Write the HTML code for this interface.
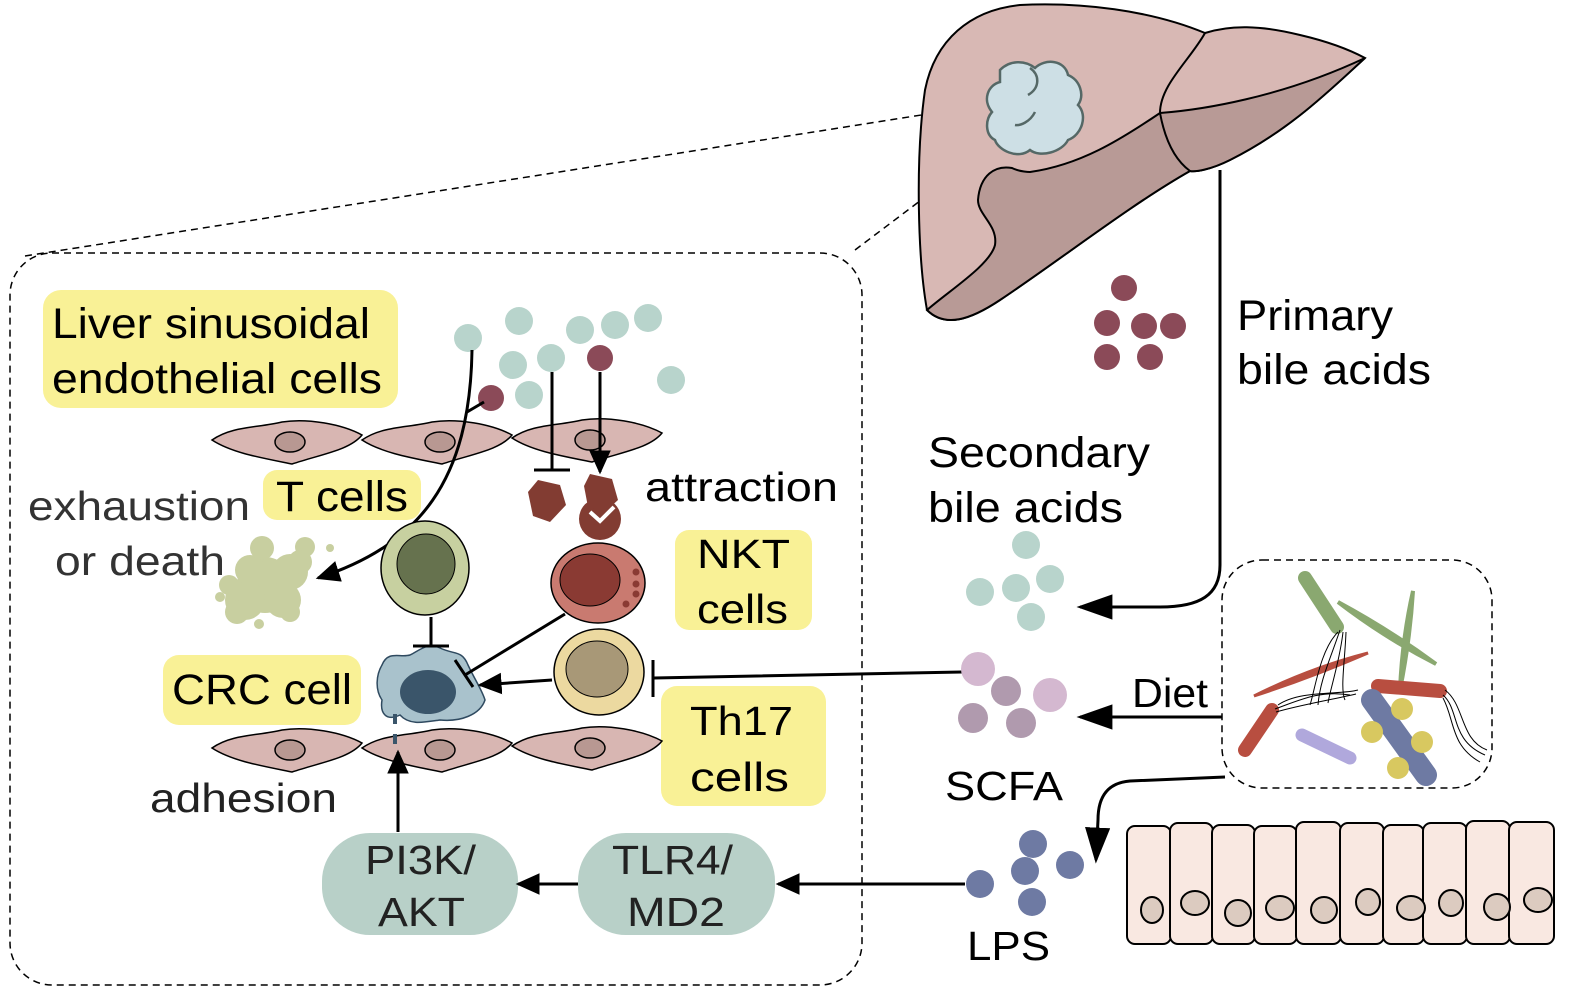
<!DOCTYPE html>
<html><head><meta charset="utf-8"><style>html,body{margin:0;padding:0;background:#fff}svg{display:block}text{font-family:"Liberation Sans",sans-serif}</style></head><body>
<svg width="1583" height="997" viewBox="0 0 1583 997" xmlns="http://www.w3.org/2000/svg">
<defs>
<marker id="ahs" viewBox="0 0 10 10" refX="9" refY="5" markerWidth="24" markerHeight="24" markerUnits="userSpaceOnUse" orient="auto"><path d="M0,0.5L10,5L0,9.5Z" fill="#000"/></marker>
<marker id="ahl" viewBox="0 0 10 10" refX="9" refY="5" markerWidth="36" markerHeight="36" markerUnits="userSpaceOnUse" orient="auto"><path d="M0,1.5L10,5L0,8.5Z" fill="#000"/></marker>
<g id="endo"><path d="M0,0 C20,-14 45,-12 70,-18 C95,-22 130,-16 150,-5 C138,10 110,14 80,24 C50,18 20,13 0,0Z" fill="#d8b6b2" stroke="#000" stroke-width="1.5"/><ellipse cx="78" cy="2" rx="15" ry="10" fill="#b89892" stroke="#000" stroke-width="1.5"/></g>
</defs>

<path d="M25,256 L985,105 M855,250 L990,148" stroke="#000" stroke-width="1.5" stroke-dasharray="7,5" fill="none"/>
<path d="M927,310 C918,260 915,160 925,90 C935,40 970,10 1020,5 C1080,2 1150,10 1205,33 C1230,25 1260,25 1300,35 C1330,42 1350,50 1365,58 C1330,90 1290,130 1230,160 C1210,170 1195,172 1190,171 C1130,205 1060,260 1000,300 C970,320 945,328 927,310Z" fill="#d8b8b4" stroke="#000" stroke-width="2"/>
<path d="M1160,113 C1200,110 1280,98 1365,58 C1330,90 1290,130 1230,160 C1210,170 1195,172 1190,171 C1130,205 1060,260 1000,300 C970,320 945,328 927,310 C950,290 990,265 995,245 C998,225 978,215 978,200 C980,175 995,165 1012,168 C1020,172 1030,172 1030,172 C1080,165 1120,140 1160,113Z" fill="#b89a96" stroke="#000" stroke-width="2"/>
<path d="M1205,33 C1190,60 1160,85 1160,113 C1165,140 1175,160 1190,171" fill="none" stroke="#000" stroke-width="2"/>
<path d="M1000,70 C1010,60 1025,60 1035,68 C1045,58 1065,60 1068,75 C1080,80 1085,95 1078,105 C1088,115 1082,135 1068,140 C1062,152 1040,158 1030,150 C1018,160 998,150 995,140 C985,135 985,120 992,112 C982,100 988,85 1000,82Z" fill="#cddfe5" stroke="#556866" stroke-width="2.5"/>
<path d="M1030,68 C1040,75 1040,88 1028,95 M1035,112 C1030,122 1020,126 1015,125" fill="none" stroke="#556866" stroke-width="2.5"/>

<rect x="10" y="253" width="852" height="732" rx="42" fill="none" stroke="#000" stroke-width="1.5" stroke-dasharray="7,5"/>

<rect x="43" y="290" width="355" height="118" rx="18" fill="#f9f196"/>
<text x="52" y="338" font-size="43" textLength="318" lengthAdjust="spacingAndGlyphs">Liver sinusoidal</text>
<text x="52" y="393" font-size="43" textLength="330" lengthAdjust="spacingAndGlyphs">endothelial cells</text>
<rect x="263" y="470" width="158" height="50" rx="14" fill="#f9f196"/>
<text x="276" y="511" font-size="43" textLength="132" lengthAdjust="spacingAndGlyphs">T cells</text>
<text x="28" y="520" font-size="41" fill="#333" textLength="222" lengthAdjust="spacingAndGlyphs">exhaustion</text>
<text x="55" y="575" font-size="41" fill="#333" textLength="170" lengthAdjust="spacingAndGlyphs">or death</text>
<text x="645" y="501" font-size="41" textLength="193" lengthAdjust="spacingAndGlyphs">attraction</text>
<rect x="675" y="530" width="137" height="100" rx="14" fill="#f9f196"/>
<text x="697" y="568" font-size="41" textLength="93" lengthAdjust="spacingAndGlyphs">NKT</text>
<text x="697" y="623" font-size="41" textLength="91" lengthAdjust="spacingAndGlyphs">cells</text>
<rect x="163" y="655" width="198" height="70" rx="16" fill="#f9f196"/>
<text x="172" y="704" font-size="43" textLength="180" lengthAdjust="spacingAndGlyphs">CRC cell</text>
<rect x="661" y="686" width="165" height="120" rx="16" fill="#f9f196"/>
<text x="690" y="735" font-size="41" textLength="103" lengthAdjust="spacingAndGlyphs">Th17</text>
<text x="690" y="791" font-size="41" textLength="99" lengthAdjust="spacingAndGlyphs">cells</text>
<text x="150" y="812" font-size="41" fill="#222" textLength="187" lengthAdjust="spacingAndGlyphs">adhesion</text>

<use href="#endo" x="212" y="440"/><use href="#endo" x="362" y="440"/><use href="#endo" x="512" y="438"/>
<use href="#endo" x="212" y="748"/><use href="#endo" x="362" y="748"/><use href="#endo" x="512" y="746"/>

<g fill="#b8d4cc">
<circle cx="468" cy="338" r="14"/><circle cx="519" cy="321" r="14"/><circle cx="580" cy="330" r="14"/><circle cx="615" cy="325" r="14"/><circle cx="648" cy="318" r="14"/><circle cx="513" cy="365" r="14"/><circle cx="551" cy="358" r="14"/><circle cx="529" cy="395" r="14"/><circle cx="671" cy="380" r="14"/>
</g>
<circle cx="600" cy="358" r="13" fill="#8b4a58"/><circle cx="491" cy="398" r="13" fill="#8b4a58"/>

<g fill="#c8cfa0">
<circle cx="265" cy="585" r="28"/><circle cx="245" cy="600" r="20"/><circle cx="290" cy="572" r="18"/><circle cx="250" cy="570" r="15"/><circle cx="283" cy="600" r="18"/><circle cx="262" cy="548" r="12"/><circle cx="305" cy="547" r="10"/><circle cx="290" cy="612" r="10"/><circle cx="237" cy="612" r="12"/><circle cx="229" cy="585" r="10"/><circle cx="220" cy="597" r="5"/><circle cx="259" cy="624" r="5"/><circle cx="330" cy="548" r="4"/><circle cx="300" cy="562" r="12"/>
</g>

<path d="M472,350 C470,480 420,545 318,578" fill="none" stroke="#000" stroke-width="3" marker-end="url(#ahs)"/>
<path d="M484,402 L467,412" stroke="#000" stroke-width="3"/>
<path d="M552,372 L552,470 M534,470 L570,470" stroke="#000" stroke-width="3" fill="none"/>
<path d="M600,372 L600,472" stroke="#000" stroke-width="3" marker-end="url(#ahs)"/>
<polygon points="538,480 560,485 566,505 550,522 533,516 528,492" fill="#823c32"/>
<circle cx="600" cy="519" r="21" fill="#823c32"/>
<polygon points="590,474 612,479 618,500 605,512 588,507 584,486" fill="#823c32"/>
<path d="M590,512 L600,521 L614,507" stroke="#fff" stroke-width="4" fill="none"/>

<ellipse cx="425" cy="568" rx="44" ry="47" fill="#c7d0a0" stroke="#000" stroke-width="1.5"/>
<ellipse cx="426" cy="564" rx="29" ry="30" fill="#66724e" stroke="#000" stroke-width="1"/>
<ellipse cx="598" cy="583" rx="47" ry="40" fill="#c97a70" stroke="#000" stroke-width="1.5"/>
<ellipse cx="590" cy="580" rx="30" ry="26" fill="#8a3a33" stroke="#000" stroke-width="1"/>
<g fill="#8a3a33"><circle cx="636" cy="572" r="3.5"/><circle cx="636" cy="584" r="3.5"/><circle cx="636" cy="594" r="3.5"/><circle cx="626" cy="604" r="3.5"/></g>
<ellipse cx="599" cy="672" rx="45" ry="43" fill="#ecd9a0" stroke="#000" stroke-width="1.5"/>
<ellipse cx="597" cy="669" rx="31" ry="28" fill="#a89877" stroke="#000" stroke-width="1"/>
<path d="M382,665 C388,650 400,658 410,655 C420,650 428,642 440,648 C455,655 462,650 468,665 C475,680 482,690 485,700 C480,715 460,722 440,720 C425,722 410,726 400,715 C385,722 380,712 382,700 C375,690 376,675 382,665Z" fill="#a9c2cc" stroke="#2f4a60" stroke-width="1.5"/>
<ellipse cx="428" cy="692" rx="28" ry="22" fill="#3a556a"/>
<path d="M395,714 L395,724 M395,734 L395,744" stroke="#3a556a" stroke-width="4"/>

<path d="M431,617 L431,646 M413,646 L449,646" stroke="#000" stroke-width="3" fill="none"/>
<path d="M565,614 L465,675" stroke="#000" stroke-width="3"/>
<path d="M455,660 L473,687" stroke="#000" stroke-width="3"/>
<path d="M552,680 L480,685" stroke="#000" stroke-width="3" marker-end="url(#ahs)"/>
<path d="M962,672 L654,678 M653,660 L653,697" stroke="#000" stroke-width="3" fill="none"/>

<rect x="322" y="833" width="196" height="102" rx="48" fill="#b8d0c8"/>
<text x="365" y="874" font-size="41" fill="#222" textLength="111" lengthAdjust="spacingAndGlyphs">PI3K/</text>
<text x="378" y="926" font-size="41" fill="#222" textLength="87" lengthAdjust="spacingAndGlyphs">AKT</text>
<rect x="578" y="833" width="197" height="102" rx="48" fill="#b8d0c8"/>
<text x="612" y="874" font-size="41" fill="#222" textLength="121" lengthAdjust="spacingAndGlyphs">TLR4/</text>
<text x="627" y="926" font-size="41" fill="#222" textLength="98" lengthAdjust="spacingAndGlyphs">MD2</text>
<path d="M398,832 L398,752" stroke="#000" stroke-width="3" marker-end="url(#ahs)"/>
<path d="M578,884 L518,884" stroke="#000" stroke-width="3" marker-end="url(#ahs)"/>
<path d="M965,884 L778,884" stroke="#000" stroke-width="3" marker-end="url(#ahs)"/>

<text x="1237" y="330" font-size="43" textLength="156" lengthAdjust="spacingAndGlyphs">Primary</text>
<text x="1237" y="384" font-size="43" textLength="194" lengthAdjust="spacingAndGlyphs">bile acids</text>
<text x="928" y="467" font-size="43" textLength="222" lengthAdjust="spacingAndGlyphs">Secondary</text>
<text x="928" y="522" font-size="43" textLength="195" lengthAdjust="spacingAndGlyphs">bile acids</text>
<text x="1132" y="707" font-size="41" textLength="76" lengthAdjust="spacingAndGlyphs">Diet</text>
<text x="945" y="800" font-size="41" textLength="118" lengthAdjust="spacingAndGlyphs">SCFA</text>
<text x="967" y="960" font-size="41" textLength="83" lengthAdjust="spacingAndGlyphs">LPS</text>

<g fill="#8b4a58"><circle cx="1124" cy="288" r="13"/><circle cx="1107" cy="323" r="13"/><circle cx="1144" cy="326" r="13"/><circle cx="1173" cy="326" r="13"/><circle cx="1107" cy="357" r="13"/><circle cx="1150" cy="357" r="13"/></g>
<g fill="#b8d4cc"><circle cx="1026" cy="545" r="14"/><circle cx="980" cy="592" r="14"/><circle cx="1016" cy="588" r="14"/><circle cx="1050" cy="579" r="14"/><circle cx="1031" cy="617" r="14"/></g>
<g><circle cx="978" cy="669" r="17" fill="#d4b8d0"/><circle cx="1006" cy="691" r="15" fill="#b09aae"/><circle cx="1050" cy="695" r="17" fill="#d4b8d0"/><circle cx="973" cy="718" r="15" fill="#b09aae"/><circle cx="1021" cy="723" r="15" fill="#b09aae"/></g>
<g fill="#6e7aa3"><circle cx="1033" cy="844" r="14"/><circle cx="1070" cy="865" r="14"/><circle cx="1025" cy="871" r="14"/><circle cx="980" cy="884" r="14"/><circle cx="1032" cy="902" r="14"/></g>

<path d="M1220,170 L1220,565 C1220,595 1200,607 1160,607 L1080,607" fill="none" stroke="#000" stroke-width="3" marker-end="url(#ahl)"/>
<path d="M1222,717 L1080,717" stroke="#000" stroke-width="3" marker-end="url(#ahl)"/>
<path d="M1225,777 L1130,781 C1105,783 1098,800 1098,820 L1096,860" fill="none" stroke="#000" stroke-width="3" marker-end="url(#ahl)"/>

<rect x="1222" y="560" width="270" height="228" rx="40" fill="none" stroke="#000" stroke-width="1.5" stroke-dasharray="7,5"/>
<path d="M1305,578 L1337,627" stroke="#8aa870" stroke-width="14" stroke-linecap="round"/>
<path d="M1338,602 Q1390,630 1436,664 Q1385,638 1338,602Z" fill="#8aa870" stroke="#8aa870" stroke-width="4"/>
<path d="M1413,591 Q1410,640 1400,690 Q1402,640 1413,591Z" fill="#8aa870" stroke="#8aa870" stroke-width="4"/>
<path d="M1254,696 Q1310,668 1368,653 Q1310,678 1254,696Z" fill="#b84e40" stroke="#b84e40" stroke-width="3"/>
<path d="M1245,750 L1272,710" stroke="#b84e40" stroke-width="14" stroke-linecap="round"/>
<path d="M1378,686 L1440,691" stroke="#b84e40" stroke-width="14" stroke-linecap="round"/>
<path d="M1372,700 L1426,775" stroke="#6e7aa3" stroke-width="22" stroke-linecap="round"/>
<path d="M1302,735 L1350,758" stroke="#b0a8dc" stroke-width="13" stroke-linecap="round"/>
<g fill="#d8c860"><circle cx="1402" cy="709" r="11"/><circle cx="1372" cy="732" r="11"/><circle cx="1422" cy="742" r="11"/><circle cx="1398" cy="768" r="11"/></g>
<g fill="none" stroke="#000" stroke-width="1">
<path d="M1340,630 C1330,660 1320,680 1318,705 M1343,632 C1340,660 1330,690 1328,703 M1346,632 C1345,660 1340,690 1345,700 M1338,632 C1320,650 1315,690 1310,705"/>
<path d="M1275,709 C1300,700 1320,690 1350,695 M1276,712 C1300,705 1330,700 1356,694 M1278,705 C1300,690 1340,695 1358,690"/>
<path d="M1443,695 C1460,710 1450,740 1485,755 M1443,698 C1455,720 1450,745 1480,762 M1445,690 C1465,705 1460,740 1487,750"/>
</g>

<g stroke="#000" stroke-width="2" fill="#f9e8e1">
<rect x="1127" y="826" width="44" height="118" rx="8"/><rect x="1170" y="823" width="43" height="121" rx="8"/><rect x="1212" y="825" width="43" height="119" rx="8"/><rect x="1254" y="826" width="43" height="118" rx="8"/><rect x="1296" y="822" width="45" height="122" rx="8"/><rect x="1340" y="823" width="44" height="121" rx="8"/><rect x="1383" y="825" width="41" height="119" rx="8"/><rect x="1423" y="823" width="44" height="121" rx="8"/><rect x="1466" y="821" width="44" height="123" rx="8"/><rect x="1509" y="822" width="45" height="122" rx="8"/>
</g>
<g stroke="#000" stroke-width="2" fill="#dccbc0">
<ellipse cx="1152" cy="910" rx="11" ry="13"/><ellipse cx="1195" cy="903" rx="14" ry="12"/><ellipse cx="1238" cy="913" rx="13" ry="13"/><ellipse cx="1280" cy="908" rx="14" ry="12"/><ellipse cx="1324" cy="910" rx="13" ry="13"/><ellipse cx="1368" cy="902" rx="12" ry="13"/><ellipse cx="1411" cy="908" rx="14" ry="12"/><ellipse cx="1451" cy="903" rx="12" ry="13"/><ellipse cx="1497" cy="907" rx="13" ry="13"/><ellipse cx="1538" cy="900" rx="14" ry="12"/>
</g>
</svg>
</body></html>
